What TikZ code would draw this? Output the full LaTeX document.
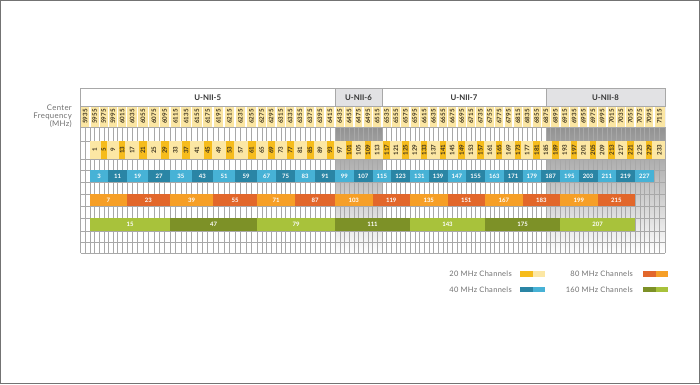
\documentclass[tikz,border=0pt]{standalone}
\usepackage{fontspec}
\setmainfont{Lato}
\definecolor{fqbg}{HTML}{FBE6A3}
\definecolor{ylt}{HTML}{FCE7A4}
\definecolor{ydk}{HTML}{F6BC1C}
\definecolor{blt}{HTML}{47B2D6}
\definecolor{bdk}{HTML}{2A85A5}
\definecolor{olt}{HTML}{F69F27}
\definecolor{odk}{HTML}{E2672B}
\definecolor{glt}{HTML}{A8C23B}
\definecolor{gdk}{HTML}{7D9127}
\definecolor{shade}{HTML}{E8E8EA}
\definecolor{hshade}{HTML}{E2E2E4}
\definecolor{gridc}{HTML}{A8A8A8}
\definecolor{txtg}{HTML}{707070}
\definecolor{lab}{HTML}{3D3420}
\newcommand\cx[1]{\csname cx#1\endcsname}
\def\xs{80.5,90,99.2,108.3,117.5,126.7,137.5,148.35,159.2,170,180.75,191.5,202.25,213,224,235,246,257,266.5,276,285.5,295,305,315,325,335,344.4,353.8,363.1,372.5,381.9,391.3,400.6,410,419.4,428.8,438.1,447.5,456.9,466.3,475.6,485,494.4,503.8,513.1,522.5,531.9,541.3,550.6,560,569.4,578.8,588.1,597.5,606.9,616.3,625.6,635,644.4,653.8,665}
\tikzset{
  gridline/.style={draw=gridc, line width=0.35pt},
  flab/.style={rotate=90, font=\fontsize{6.2}{6.2}\selectfont\bfseries, text=lab, inner sep=0pt},
  wlab/.style={font=\fontsize{6}{6}\selectfont\bfseries, text=white, inner sep=0pt},
  hdrbox/.style={draw=gridc, line width=0.4pt},
  hdrlab/.style={font=\fontsize{7.8}{7.8}\selectfont\bfseries, text=black!80, inner sep=0pt},
  legtxt/.style={font=\fontsize{7.5}{8}\selectfont\addfontfeature{LetterSpace=4}, text=txtg, anchor=east, inner sep=0pt},
  sidelab/.style={font=\fontsize{7.8}{8.2}\selectfont\addfontfeature{LetterSpace=4}, text=txtg, align=right, anchor=east, inner sep=0pt},
}
\begin{document}
\begin{tikzpicture}[x=1pt,y=-1pt]
\foreach \v [count=\i from 0] in \xs {\expandafter\xdef\csname cx\i\endcsname{\v}}
\useasboundingbox (0,0) rectangle (700,384);
\fill[white] (0,0) rectangle (700,384);
\draw[black!55, line width=1pt] (0.5,0.5) rectangle (699.5,383.5);
% shaded bands
\fill[shade] (\cx{25},106) rectangle (\cx{30},253);
\fill[shade] (546,106) rectangle (\cx{60},253);
% grid
\foreach \i in {0,...,59}{
  \pgfmathtruncatemacro\j{\i+1}
  \pgfmathsetmacro\m{(\cx{\i}+\cx{\j})/2}
  \draw[gridline] (\m,127) -- (\m,253);
  \draw[gridline] (\cx{\j},127) -- (\cx{\j},253);
}
\draw[gridline] (\cx{0},88.5) -- (\cx{0},253);
\foreach \y in {127,141,159,170,182,194,206,218,231,242,253}
  \draw[gridline] (\cx{0},\y) -- (\cx{60},\y);
% frequency row
\fill[fqbg] (\cx{0},106) rectangle (\cx{60},127);
\foreach \i in {0,...,59}{
  \pgfmathtruncatemacro\j{\i+1}
  \pgfmathtruncatemacro\f{5935+20*\i}
  \pgfmathsetmacro\m{(\cx{\i}+\cx{\j})/2}
  \ifnum\i>0 \draw[white, line width=1.4pt] (\cx{\i},106) -- (\cx{\i},127);\fi
  \node[flab] (f\i) at (\m,116.5) {\f};
}
% header
\filldraw[fill=white, hdrbox] (\cx{0},88.5) rectangle (\cx{25},106);
\filldraw[fill=hshade, hdrbox] (\cx{25},88.5) rectangle (\cx{30},106);
\filldraw[fill=white, hdrbox] (\cx{30},88.5) rectangle (546,106);
\filldraw[fill=hshade, hdrbox] (546,88.5) rectangle (\cx{60},106);
\node[hdrlab] (u5) at ({(\cx{0}+\cx{25})/2},97.3) {U-NII-5};
\node[hdrlab] (u6) at ({(\cx{25}+\cx{30})/2},97.3) {U-NII-6};
\node[hdrlab] (u7) at ({(\cx{30}+546)/2},97.3) {U-NII-7};
\node[hdrlab] (u8) at ({(546+\cx{60})/2},97.3) {U-NII-8};
% 20 MHz row
\fill[ylt] (\cx{1},141) rectangle (\cx{60},159);
\foreach \i in {1,...,59}{
  \pgfmathtruncatemacro\j{\i+1}
  \pgfmathtruncatemacro\chn{4*\i-3}
  \pgfmathtruncatemacro\pp{mod(\i,2)}
  \pgfmathsetmacro\m{(\cx{\i}+\cx{\j})/2}
  \ifnum\pp=0 \fill[ydk] ({\cx{\i}+1.5},141) rectangle ({\cx{\j}-1.5},159);\fi
  \node[flab] (t\i) at (\m,150) {\chn};
}
% 40 MHz row
\foreach \k in {0,...,28}{
  \pgfmathtruncatemacro\a{1+2*\k}
  \pgfmathtruncatemacro\b{3+2*\k}
  \pgfmathtruncatemacro\chn{3+8*\k}
  \pgfmathtruncatemacro\pp{mod(\k,2)}
  \ifnum\pp=1 \def\cc{bdk}\else\def\cc{blt}\fi
  \fill[\cc] (\cx{\a},170) rectangle (\cx{\b},182);
  \node[wlab] (q\k) at ({(\cx{\a}+\cx{\b})/2},176.2) {\chn};
}
% 80 MHz row
\foreach \k in {0,...,13}{
  \pgfmathtruncatemacro\a{1+4*\k}
  \pgfmathtruncatemacro\b{5+4*\k}
  \pgfmathtruncatemacro\chn{7+16*\k}
  \pgfmathtruncatemacro\pp{mod(\k,2)}
  \ifnum\pp=1 \def\cc{odk}\else\def\cc{olt}\fi
  \fill[\cc] (\cx{\a},194) rectangle (\cx{\b},206);
  \node[wlab] (e\k) at ({(\cx{\a}+\cx{\b})/2},200.2) {\chn};
}
% 160 MHz row
\foreach \k in {0,...,6}{
  \pgfmathtruncatemacro\a{1+8*\k}
  \pgfmathtruncatemacro\b{9+8*\k}
  \pgfmathtruncatemacro\chn{15+32*\k}
  \pgfmathtruncatemacro\pp{mod(\k,2)}
  \ifnum\pp=1 \def\cc{gdk}\else\def\cc{glt}\fi
  \fill[\cc] (\cx{\a},218) rectangle (\cx{\b},231);
  \node[wlab] (s\k) at ({(\cx{\a}+\cx{\b})/2},224.7) {\chn};
}
% side label
\node[sidelab] (cf) at (72,116) {Center\\Frequency\\(MHz)};
% legend
\node[legtxt] (l20) at (512,273.8) {20 MHz Channels};
\fill[ydk] (520,271) rectangle (532.5,276.5);
\fill[ylt] (532.5,271) rectangle (545,276.5);
\node[legtxt] (l40) at (512,289.3) {40 MHz Channels};
\fill[bdk] (520,286.5) rectangle (532.5,292);
\fill[blt] (532.5,286.5) rectangle (545,292);
\node[legtxt] (l80) at (633,273.8) {80 MHz Channels};
\fill[odk] (643,271) rectangle (655.5,276.5);
\fill[olt] (655.5,271) rectangle (668,276.5);
\node[legtxt] (l160) at (633,289.3) {160 MHz Channels};
\fill[gdk] (643,286.5) rectangle (655.5,292);
\fill[glt] (655.5,286.5) rectangle (668,292);
\end{tikzpicture}
\end{document}
